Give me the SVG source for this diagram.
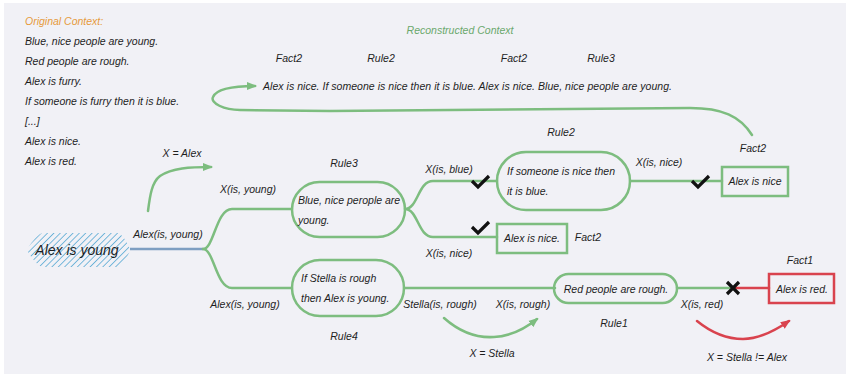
<svg xmlns="http://www.w3.org/2000/svg" width="848" height="377" viewBox="0 0 848 377">
<style>
.t{font-family:"Liberation Sans",Arial,sans-serif;font-style:italic;font-size:10.5px;fill:#1e1e1e}
.c{text-anchor:middle}
.g{fill:none;stroke:#7dbd7f;stroke-width:2.5;stroke-linecap:round;stroke-linejoin:round}
.red{fill:none;stroke:#d9434e;stroke-width:2.5;stroke-linecap:round}
.box{fill:none;stroke:#7dbd7f;stroke-width:2.5}
.mk{fill:none;stroke:#111;stroke-width:3.2;stroke-linecap:butt}
</style>
<defs>
<pattern id="hatch" patternUnits="userSpaceOnUse" width="4.5" height="4.5" patternTransform="rotate(45)">
<line x1="0" y1="0" x2="0" y2="4.5" stroke="#5aaad4" stroke-width="1.6"/>
</pattern>
<marker id="ag" viewBox="0 0 10 10" refX="8" refY="5" markerWidth="4" markerHeight="4" orient="auto" markerUnits="strokeWidth">
<path d="M0,1 L10,5 L0,9 Z" fill="#7dbd7f"/>
</marker>
<marker id="ar" viewBox="0 0 10 10" refX="8" refY="5" markerWidth="4" markerHeight="4" orient="auto" markerUnits="strokeWidth">
<path d="M0,1 L10,5 L0,9 Z" fill="#d9434e"/>
</marker>
</defs>
<rect x="0" y="0" width="848" height="377" fill="#ffffff"/>
<rect x="4" y="3" width="842" height="371" fill="#f1f1f6"/>

<g id="original-context">
<text class="t" x="25" y="25" fill="#e69a3c" style="fill:#e69a3c">Original Context:</text>
<text class="t" x="25" y="45">Blue, nice people are young.</text>
<text class="t" x="25" y="65">Red people are rough.</text>
<text class="t" x="25" y="85">Alex is furry.</text>
<text class="t" x="25" y="105">If someone is furry then it is blue.</text>
<text class="t" x="25" y="125">[...]</text>
<text class="t" x="25" y="145">Alex is nice.</text>
<text class="t" x="25" y="165">Alex is red.</text>
</g>

<g id="reconstructed-context">
<text class="t c" x="460" y="34" style="fill:#6aa86c">Reconstructed Context</text>
<text class="t c" x="289" y="62">Fact2</text>
<text class="t c" x="381" y="62">Rule2</text>
<text class="t c" x="514" y="62">Fact2</text>
<text class="t c" x="601" y="62">Rule3</text>
<text class="t" x="263" y="90" textLength="409">Alex is nice. If someone is nice then it is blue. Alex is nice. Blue, nice people are young.</text>
</g>

<g id="connectors">
<path class="g" d="M752,135 C740,116 722,108 690,108 L330,111 L240,110 C224,110 210,103 213,97 C216,90 228,86 255,86" marker-end="url(#ag)"/>
<path d="M130,249 L203,249" fill="none" stroke="#7f9fc2" stroke-width="2.5"/>
<path class="g" d="M203,249 C214,249 216,209 232,209 L292,209"/>
<path class="g" d="M203,249 C214,249 216,288 232,288 L292,288"/>
<path class="g" d="M148,211 C150,195 152,182 160,176 C172,168 190,167 211,167" marker-end="url(#ag)"/>
<path class="g" d="M405,209 C418,209 418,181 433,181 L497,181"/>
<path class="g" d="M405,209 C418,209 418,237 433,237 L497,237"/>
<path class="g" d="M630,181 L722,181"/>
<path class="g" d="M404,288 L555,288"/>
<path class="g" d="M444,318 C462,334 478,338 494,337 C512,336 526,328 537,319" marker-end="url(#ag)"/>
<path class="g" d="M677,288 L733,288"/>
<path class="red" d="M733,288 L769,288"/>
<path class="red" d="M697,321 C713,334 728,339 743,339 C760,339 776,330 789,321" marker-end="url(#ar)"/>
<path class="mk" d="M472,181 L478,187 L489,176"/>
<path class="mk" d="M472,227 L478,233 L489,222"/>
<path class="mk" d="M692,181 L698,187 L709,176"/>
<path class="mk" d="M727,282 L739,294 M739,282 L727,294"/>
</g>

<g id="goal">
<path d="M27,250 C30,244 36,236 42,233 L118,233 C124,236 128,244 130,250 C128,256 124,264 118,267 L42,267 C36,264 30,256 27,250 Z" fill="url(#hatch)"/>
<text class="t c" x="77" y="255" style="font-size:14px">Alex is young</text>
<text class="t c" x="168" y="238">Alex(is, young)</text>
<text class="t c" x="182" y="157">X = Alex</text>
<text class="t c" x="248" y="193">X(is, young)</text>
<text class="t c" x="245" y="308">Alex(is, young)</text>
</g>

<g id="rule3">
<rect class="box" x="292" y="182" width="113" height="55" rx="27.5"/>
<text class="t" x="298" y="204">Blue, nice perople are</text>
<text class="t" x="298" y="224">young.</text>
<text class="t c" x="344" y="167">Rule3</text>
<text class="t c" x="449" y="173">X(is, blue)</text>
<text class="t c" x="449" y="257">X(is, nice)</text>
</g>

<g id="rule2">
<rect class="box" x="497" y="152" width="133" height="58" rx="29"/>
<text class="t" x="507" y="175">If someone is nice then</text>
<text class="t" x="507" y="195">it is blue.</text>
<text class="t c" x="561" y="136">Rule2</text>
<text class="t c" x="659" y="166">X(is, nice)</text>
</g>

<g id="fact2-lower">
<rect class="box" x="497" y="224" width="70" height="29"/>
<text class="t c" x="532" y="242">Alex is nice.</text>
<text class="t c" x="588" y="241">Fact2</text>
</g>

<g id="fact2-upper">
<rect class="box" x="722" y="167" width="66" height="29"/>
<text class="t c" x="755" y="185">Alex is nice</text>
<text class="t c" x="753" y="152">Fact2</text>
</g>

<g id="rule4">
<rect class="box" x="292" y="260" width="112" height="56" rx="28"/>
<text class="t" x="301" y="282">If Stella is rough</text>
<text class="t" x="301" y="302">then Alex is young.</text>
<text class="t c" x="344" y="340">Rule4</text>
<text class="t c" x="440" y="308">Stella(is, rough)</text>
<text class="t c" x="523" y="308">X(is, rough)</text>
<text class="t c" x="492" y="357">X = Stella</text>
</g>

<g id="rule1">
<rect class="box" x="554" y="274" width="123" height="29" rx="14.5"/>
<text class="t c" x="616" y="293">Red people are rough.</text>
<text class="t c" x="614" y="327">Rule1</text>
<text class="t c" x="702" y="308">X(is, red)</text>
</g>

<g id="fact1">
<rect x="769" y="274" width="65" height="29" fill="none" stroke="#d9434e" stroke-width="2.5"/>
<text class="t c" x="802" y="293">Alex is red.</text>
<text class="t c" x="800" y="264">Fact1</text>
<text class="t c" x="747" y="361">X = Stella != Alex</text>
</g>
</svg>
